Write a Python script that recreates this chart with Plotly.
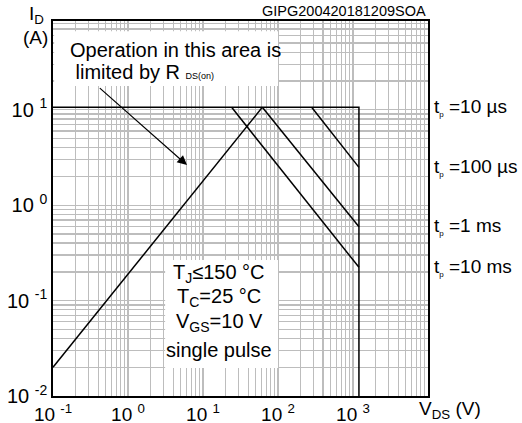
import math
import plotly.graph_objects as go

# ---------------- data ----------------
VDS_MAX = 1200.0          # V
ID_MAX = 10.6             # A
I_MIN = 0.01              # A (bottom of chart)

rds_v = [0.1, 61.8]
rds_i = [0.02, ID_MAX]

tp10us_v = [0.1, VDS_MAX, VDS_MAX]
tp10us_i = [ID_MAX, ID_MAX, I_MIN]

tp100us_v = [281.0, VDS_MAX]
tp100us_i = [ID_MAX, 2.49]

tp1ms_v = [61.8, VDS_MAX]
tp1ms_i = [ID_MAX, 0.594]

tp10ms_v = [24.1, VDS_MAX]
tp10ms_i = [ID_MAX, 0.223]

pulse_labels = ["10 µs", "100 µs", "1 ms", "10 ms"]
pulse_label_i = [ID_MAX, 2.49, 0.594, 0.223]

x_tickvals = [0.1, 1, 10, 100, 1000]
x_ticktext = ["10 <sup>-1</sup>", "10 <sup>0</sup>", "10 <sup>1</sup>", "10 <sup>2</sup>", "10 <sup>3</sup>"]
y_tickvals = [0.01, 0.1, 1, 10]
y_ticktext = ["10 <sup>-2</sup>", "10 <sup>-1</sup>", "10 <sup>0</sup>", "10 <sup>1</sup>"]

rds_note_lines = ["Operation in this area is",
                  " limited by R <span style='font-size:9px'>DS(on)</span>"]
cond_lines = ["T<sub>J</sub>≤150 °C", "T<sub>C</sub>=25 °C", "V<sub>GS</sub>=10 V", "single pulse"]

arrow_tail = [0.402, 17.4]   # V, A
arrow_tip = [6.12, 2.63]     # V, A

# ---------------- style ----------------
FONT = "Liberation Sans, Arial, sans-serif"
GRID = "#bdbdbd"
LINE = dict(color="black", width=1.5)

fig = go.Figure()
for xs, ys, nm in [(rds_v, rds_i, "RDS(on)"), (tp10us_v, tp10us_i, "10 µs"),
                   (tp100us_v, tp100us_i, "100 µs"), (tp1ms_v, tp1ms_i, "1 ms"),
                   (tp10ms_v, tp10ms_i, "10 ms")]:
    fig.add_trace(go.Scatter(x=xs, y=ys, mode="lines", line=LINE, name=nm,
                             showlegend=False, hoverinfo="skip"))

axis_common = dict(
    type="log", showgrid=True, gridcolor=GRID, gridwidth=1.3,
    showline=True, linecolor="black", linewidth=1.8, mirror=True,
    ticks="", zeroline=False, tickmode="array", automargin=False,
    minor=dict(dtick="D1", showgrid=True, gridcolor=GRID, gridwidth=1.3, ticks=""),
)

fig.update_xaxes(range=[-1, 4], tickvals=x_tickvals, ticktext=x_ticktext,
                 tickfont=dict(family=FONT, size=19, color="black"), **axis_common)
fig.update_yaxes(range=[-2, 1.93], tickvals=y_tickvals, ticktext=y_ticktext,
                 tickfont=dict(family=FONT, size=20, color="black"), **axis_common)

# white boxes over the grid
fig.add_shape(type="rect", xref="paper", yref="paper", x0=0.003, x1=0.6, y0=0.827, y1=0.973,
              fillcolor="white", line=dict(width=0), layer="above")
fig.add_shape(type="rect", xref="paper", yref="paper", x0=0.299, x1=0.6, y0=0.075, y1=0.363,
              fillcolor="white", line=dict(width=0), layer="above")

TXT = dict(family=FONT, size=20, color="black")
ann = []
for txt, xp, yp in zip(rds_note_lines, [0.04, 0.04], [0.9227, 0.864]):
    ann.append(dict(xref="paper", yref="paper", x=xp, y=yp, xanchor="left", yanchor="middle",
                    showarrow=False, text=txt, font=TXT))
for txt, yp in zip(cond_lines, [0.328, 0.262, 0.195, 0.1227]):
    ann.append(dict(xref="paper", yref="paper", x=0.443, y=yp, xanchor="center", yanchor="middle",
                    showarrow=False, text=txt, font=TXT))
for lab, iv in zip(pulse_labels, pulse_label_i):
    ann.append(dict(xref="paper", yref="y", x=1.01, y=math.log10(iv), xanchor="left",
                    yanchor="middle", showarrow=False,
                    text="t<sub><span style='font-size:8px'>p</span></sub> =" + lab,
                    font=dict(family=FONT, size=19, color="black")))
ann.append(dict(xref="paper", yref="paper", x=-0.043, y=1.016, xanchor="center", yanchor="middle",
                showarrow=False, text="I<sub>D</sub>", font=dict(family=FONT, size=19, color="black")))
ann.append(dict(xref="paper", yref="paper", x=-0.048, y=0.957, xanchor="center", yanchor="middle",
                showarrow=False, text="(A)", font=dict(family=FONT, size=19, color="black")))
ann.append(dict(xref="paper", yref="paper", x=0.97, y=-0.037, xanchor="left", yanchor="middle",
                showarrow=False, text="V<sub>DS</sub> (V)", font=dict(family=FONT, size=19, color="black")))
ann.append(dict(xref="paper", yref="paper", x=1.0, y=1.027, xanchor="right", yanchor="middle",
                showarrow=False, text="GIPG200420181209SOA", font=dict(family=FONT, size=14.5, color="black")))
ann.append(dict(xref="x", yref="y", x=math.log10(arrow_tip[0]), y=math.log10(arrow_tip[1]),
                axref="x", ayref="y", ax=math.log10(arrow_tail[0]), ay=math.log10(arrow_tail[1]),
                text="", showarrow=True, arrowhead=2, arrowsize=1.6, arrowwidth=1.2,
                arrowcolor="black", standoff=0))

fig.update_layout(
    width=522, height=423,
    margin=dict(l=53, r=94, t=21, b=27, autoexpand=False),
    paper_bgcolor="white", plot_bgcolor="white",
    font=dict(family=FONT, color="black"),
    showlegend=False,
    annotations=ann,
)

fig.write_html("out.html", config={"displayModeBar": False, "staticPlot": True},
               post_script="document.body.style.margin='0';")
